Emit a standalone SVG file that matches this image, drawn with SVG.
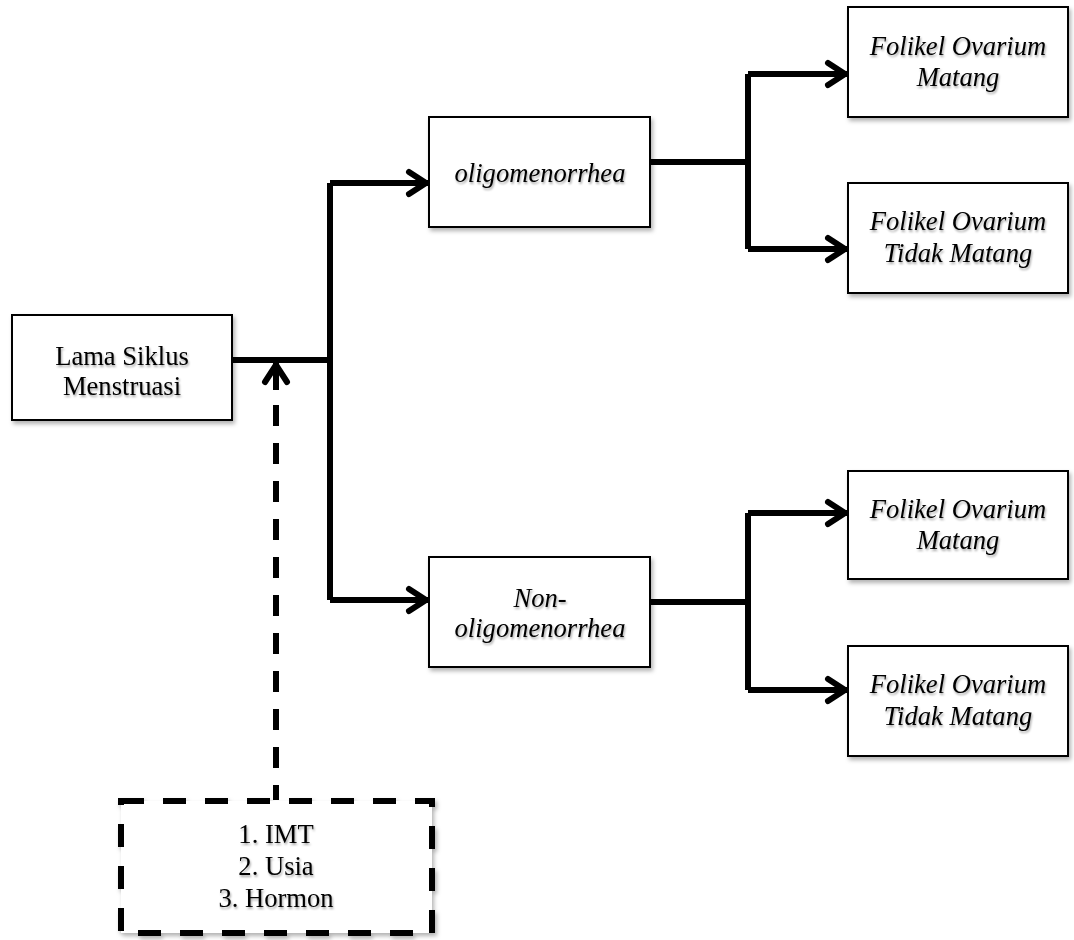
<svg xmlns="http://www.w3.org/2000/svg" width="1074" height="940" viewBox="0 0 1074 940">
<style>
.box{fill:#fff;stroke:#000;stroke-width:2}
.dbox{fill:#fff;stroke:#000;stroke-width:6;stroke-dasharray:23 19}
.t{font-family:"Liberation Serif",serif;font-size:26.6px;fill:#000;text-anchor:middle}
.i{font-style:italic}
.c{fill:none;stroke:#000;stroke-width:6}
.d{fill:none;stroke:#000;stroke-width:6;stroke-dasharray:21 17}
</style>
<defs>
<filter id="sh" x="-10%" y="-10%" width="130%" height="130%">
<feDropShadow dx="2" dy="3" stdDeviation="2" flood-color="#000" flood-opacity="0.3"/>
</filter>
<filter id="tsh" x="-10%" y="-20%" width="130%" height="150%">
<feDropShadow dx="1" dy="2" stdDeviation="1.2" flood-color="#000" flood-opacity="0.35"/>
</filter>
<marker id="ah" markerUnits="userSpaceOnUse" viewBox="-26 -16 30 32" refX="0" refY="0" markerWidth="30" markerHeight="32" orient="auto" overflow="visible">
<path d="M-19,-11 L-2,0 L-19,11" fill="none" stroke="#000" stroke-width="6" stroke-linecap="round" stroke-linejoin="round"/>
</marker>
</defs>
<g id="connectors">
<path class="c" d="M232,360 H330"/>
<path class="c" d="M330,183 V600"/>
<path class="c" d="M330,183 H428" marker-end="url(#ah)"/>
<path class="c" d="M330,600 H428" marker-end="url(#ah)"/>
<path class="c" d="M650,162 H748"/>
<path class="c" d="M748,74 V249"/>
<path class="c" d="M748,74 H847" marker-end="url(#ah)"/>
<path class="c" d="M748,249 H847" marker-end="url(#ah)"/>
<path class="c" d="M650,602 H748"/>
<path class="c" d="M748,513 V690"/>
<path class="c" d="M748,513 H847" marker-end="url(#ah)"/>
<path class="c" d="M748,690 H847" marker-end="url(#ah)"/>
<path class="d" d="M276,405 V800"/>
<path class="c" d="M276,390 V363" marker-end="url(#ah)"/>
</g>
<g id="lama">
<rect class="box" x="12" y="315" width="220" height="105" filter="url(#sh)"/>
<text class="t" x="122" y="365" filter="url(#tsh)">Lama Siklus</text>
<text class="t" x="122" y="395" filter="url(#tsh)">Menstruasi</text>
</g>
<g id="oligo">
<rect class="box" x="429" y="117" width="221" height="110" filter="url(#sh)"/>
<text class="t i" x="540" y="182" filter="url(#tsh)">oligomenorrhea</text>
</g>
<g id="nonoligo">
<rect class="box" x="429" y="557" width="221" height="110" filter="url(#sh)"/>
<text class="t i" x="540" y="607" filter="url(#tsh)">Non-</text>
<text class="t i" x="540" y="637" filter="url(#tsh)">oligomenorrhea</text>
</g>
<g id="f1">
<rect class="box" x="848" y="7" width="220" height="110" filter="url(#sh)"/>
<text class="t i" x="958" y="55" filter="url(#tsh)">Folikel Ovarium</text>
<text class="t i" x="958" y="86" filter="url(#tsh)">Matang</text>
</g>
<g id="f2">
<rect class="box" x="848" y="183" width="220" height="110" filter="url(#sh)"/>
<text class="t i" x="958" y="230" filter="url(#tsh)">Folikel Ovarium</text>
<text class="t i" x="958" y="262" filter="url(#tsh)">Tidak Matang</text>
</g>
<g id="f3">
<rect class="box" x="848" y="471" width="220" height="108" filter="url(#sh)"/>
<text class="t i" x="958" y="518" filter="url(#tsh)">Folikel Ovarium</text>
<text class="t i" x="958" y="549" filter="url(#tsh)">Matang</text>
</g>
<g id="f4">
<rect class="box" x="848" y="646" width="220" height="110" filter="url(#sh)"/>
<text class="t i" x="958" y="693" filter="url(#tsh)">Folikel Ovarium</text>
<text class="t i" x="958" y="725" filter="url(#tsh)">Tidak Matang</text>
</g>
<g id="faktor">
<rect class="dbox" x="121" y="801" width="311" height="132" filter="url(#sh)"/>
<text class="t" x="276" y="843" filter="url(#tsh)">1. IMT</text>
<text class="t" x="276" y="875" filter="url(#tsh)">2. Usia</text>
<text class="t" x="276" y="907" filter="url(#tsh)">3. Hormon</text>
</g>
</svg>
